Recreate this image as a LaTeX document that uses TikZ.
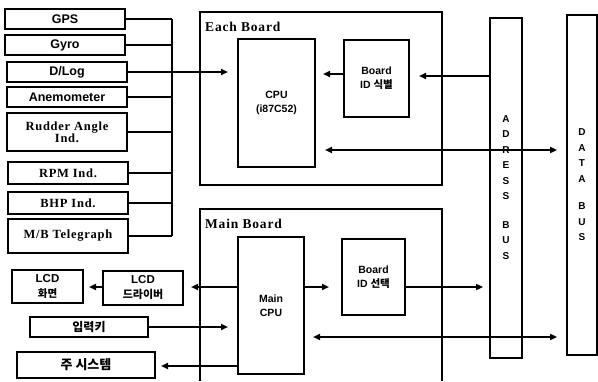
\documentclass[tikz,border=0pt]{standalone}
\usepackage{fontspec}
\setmainfont{Liberation Sans}
\newfontfamily\krf{Noto Sans CJK KR}
\newfontfamily\serl[LetterSpace=6]{Liberation Serif}
\usetikzlibrary{arrows.meta}
\begin{document}
\begin{tikzpicture}[x=1pt,y=-1pt,
  box/.style={draw, line width=2pt, inner sep=0pt, align=center,
    font=\bfseries\fontsize{12.5}{14}\selectfont},
  sbox/.style={box, font=\serl\bfseries\fontsize{12.5}{12}\selectfont},
  frame/.style={draw, line width=1.8pt, inner sep=0pt},
  conn/.style={line width=1.8pt},
  arr/.style={conn, -{Triangle[length=7pt,width=6pt]}},
  darr/.style={conn, {Triangle[length=7pt,width=6pt]}-{Triangle[length=7pt,width=6pt]}},
  flabel/.style={anchor=base west, inner sep=0pt, font=\serl\bfseries\fontsize{13.5}{14}\selectfont},
  small/.style={font=\bfseries\fontsize{10.5}{14}\selectfont},
  buslbl/.style={inner sep=0pt, align=center, font=\bfseries\fontsize{10}{15.5}\selectfont}
]
\useasboundingbox (0,0) rectangle (598,381);

% left sensor boxes
\node[box, minimum width=120pt, minimum height=20pt] (gps) at (65,19) {GPS};
\node[box, minimum width=120pt, minimum height=20pt] (gyro) at (65,45) {Gyro};
\node[box, minimum width=120pt, minimum height=20pt] (dlog) at (67,72) {D/Log};
\node[box, minimum width=120pt, minimum height=20pt] (anemo) at (67,97) {Anemometer};
\node[sbox, minimum width=120pt, minimum height=38pt] (rudder) at (67,132) {Rudder Angle\\Ind.};
\node[sbox, minimum width=120pt, minimum height=22pt] (rpm) at (68,173) {RPM Ind.};
\node[sbox, minimum width=120pt, minimum height=22pt] (bhp) at (68,203) {BHP Ind.};
\node[sbox, minimum width=120pt, minimum height=34pt] (mbt) at (68,236) {M/B Telegraph};

% left bus
\coordinate (busx) at (172,0);
\foreach \n in {gps,gyro,dlog,anemo,rudder,rpm,bhp,mbt}
  \draw[conn] (\n.east) -- (\n.east -| busx);
\draw[conn] (gps.east -| busx) -- (mbt.east -| busx);

% Each board
\node[frame, minimum width=242pt, minimum height=173pt] (eachb) at (321,98.5) {};
\node[flabel] (eblabel) at (205,31) {Each Board};
\node[box, small, minimum width=77pt, minimum height=128pt] (cpu) at (276.5,103) {CPU\\(i87C52)};
\node[box, small, minimum width=65pt, minimum height=77pt] (bid1) at (376.5,78.5) {Board\\ID {\krf 식별}};

% buses
\node[frame, minimum width=32pt, minimum height=340pt] (abus) at (506,188) {};
\node[buslbl] (abl) at (506,187.5) {A\\D\\R\\E\\S\\S\\[13pt]B\\U\\S};
\node[frame, minimum width=30pt, minimum height=340pt] (dbus) at (582,185) {};
\node[buslbl] (dbl) at (582,185) {D\\A\\T\\A\\[12pt]B\\U\\S};

% main board
\coordinate (mbl) at (200,381);
\coordinate (mbr) at (442,381);
\draw[line width=1.8pt] (mbl) -- (200,209) -- (442,209) -- (mbr);
\node[flabel] (mblabel) at (205,228) {Main Board};
\node[box, small, minimum width=66pt, minimum height=137pt] (mcpu) at (271,305.5) {Main\\CPU};
\node[box, small, minimum width=63pt, minimum height=76pt] (bid2) at (373.5,277) {Board\\ID {\krf 선택}};

% left lower boxes
\node[box, small, font=\bfseries\fontsize{11.5}{15}\selectfont, minimum width=80pt, minimum height=34pt] (lcdd) at (143,288) {LCD\\{\krf\fontsize{11}{13}\selectfont 드라이버}};
\node[box, small, font=\bfseries\fontsize{11.5}{15}\selectfont, minimum width=71pt, minimum height=33pt] (lcds) at (47.5,286.5) {LCD\\{\krf\fontsize{10.5}{13}\selectfont 화면}};
\node[box, minimum width=118pt, minimum height=20pt, font=\krf\bfseries\fontsize{12}{13}\selectfont] (key) at (89,327) {입력키};
\node[box, minimum width=138pt, minimum height=26pt, font=\krf\bfseries\fontsize{13}{14}\selectfont] (msys) at (86,365) {주 시스템};

% row coordinates
\coordinate (y74) at (0,74);
\coordinate (y76) at (0,76);
\coordinate (y150) at (0,150);
\coordinate (y287) at (0,287);
\coordinate (y327) at (0,327);
\coordinate (y337) at (0,337);
\coordinate (y366) at (0,366);

% each board connectors
\draw[arr, shorten >=9pt] (dlog.east) -- (dlog.east -| cpu.west);
\draw[arr, shorten >=7pt] (bid1.west |- y74) -- (cpu.east |- y74);
\draw[arr, shorten >=9pt] (abus.west |- y76) -- (bid1.east |- y76);
\draw[darr, shorten <=9pt, shorten >=9pt] (cpu.east |- y150) -- (dbus.west |- y150);

% main board connectors
\draw[arr, shorten >=12pt] (mcpu.east |- y287) -- (bid2.west |- y287);
\draw[arr, shorten >=6pt] (bid2.east |- y287) -- (abus.west |- y287);
\draw[darr, shorten <=8pt, shorten >=9pt] (mcpu.east |- y337) -- (dbus.west |- y337);
\draw[arr, shorten >=7pt] (mcpu.west |- y287) -- (lcdd.east |- y287);
\draw[arr, shorten >=5pt] (lcdd.west |- y287) -- (lcds.east |- y287);
\draw[arr, shorten >=9pt] (key.east) -- (key.east -| mcpu.west);
\draw[arr, shorten >=5pt] (mcpu.west |- y366) -- (msys.east |- y366);
\end{tikzpicture}
\end{document}
